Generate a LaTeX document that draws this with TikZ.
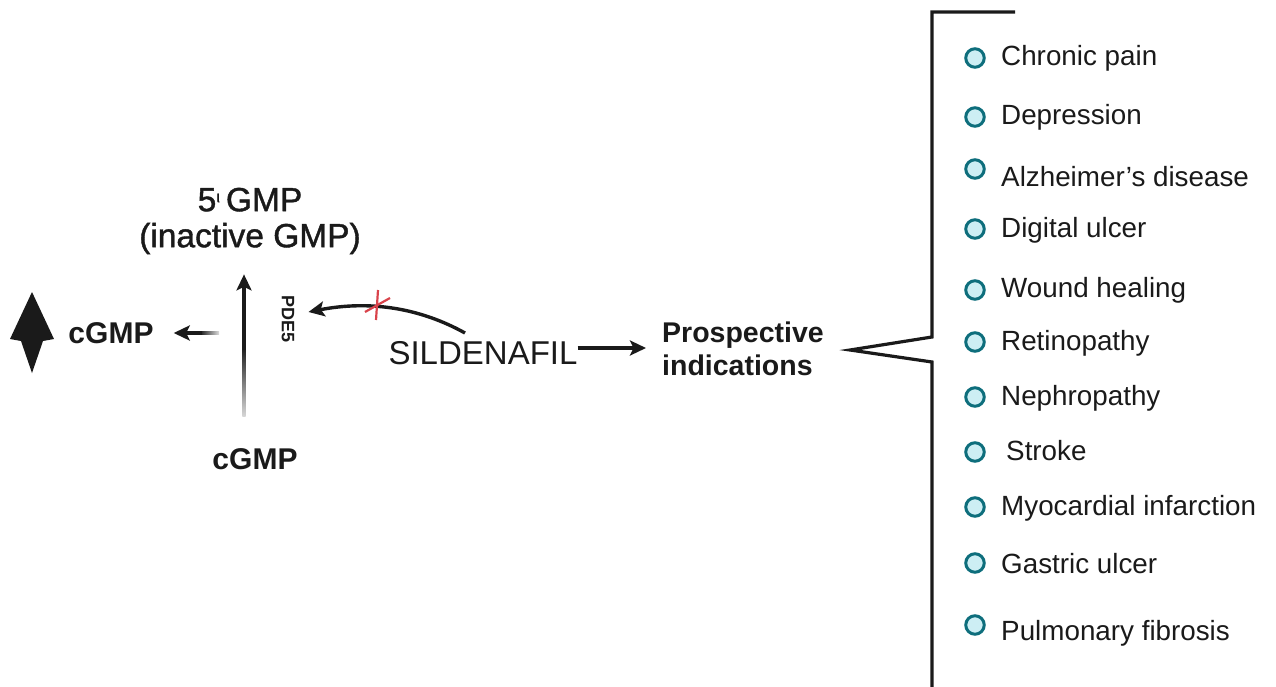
\documentclass[tikz,border=0pt]{standalone}
\usepackage{fontspec}
\setmainfont{Liberation Sans}
\newfontfamily\medfont{Liberation Sans}[FakeBold=1.2]
\usetikzlibrary{arrows.meta,calc}
\definecolor{ink}{HTML}{1A1A1A}
\definecolor{bulletline}{HTML}{0E6E7C}
\definecolor{bulletfill}{HTML}{CDEEF4}
\definecolor{crossred}{HTML}{D9434B}
\tikzset{
  arr/.style={draw=ink, line width=3.4pt, -{Stealth[length=16pt,width=15pt,inset=3.5pt]}},
  boldlbl/.style={font=\fontsize{30}{34}\selectfont\bfseries, text=ink, inner sep=0pt},
  gmplbl/.style={font=\fontsize{33.5}{39}\medfont, text=ink, inner sep=0pt, align=center},
  item/.style={font=\fontsize{27.8}{32}\selectfont, text=ink, inner sep=0pt, anchor=base west},
  bullet/.style={circle, draw=bulletline, fill=bulletfill, line width=3pt, minimum size=18.5pt, inner sep=0pt},
}
\begin{document}
\begin{tikzpicture}[x=1pt,y=-1pt]
\useasboundingbox (0,0) rectangle (1276,687);

% left part
\node[gmplbl] (gmp) at (250,221) {5\textsuperscript{\fontsize{16}{16}\selectfont ι}\,GMP\\[-3pt](inactive GMP)};
\node[boldlbl] (cgmpb) at (255,459) {cGMP};
\node[boldlbl] (cgmpl) at (111,333) {cGMP};
\node[font=\fontsize{18}{20}\selectfont\bfseries, text=ink, inner sep=0pt, rotate=-90] (pde) at (288,319) {PDE5};
% vertical PDE5 reaction arrow with faded tail
\coordinate (vstart) at (244,416);
\coordinate (vmid) at (244,350);
\shade[top color=ink, bottom color=ink!18] (242.3,346) rectangle (245.7,416);
\draw[arr] (vmid) -- ($(gmp.south)+(-6,20)$);
% left arrow with faded tail
\coordinate (lstart) at (219,333);
\coordinate (lmid) at (202,333);
\shade[left color=ink, right color=ink!15] (200,331.3) rectangle (219,334.7);
\draw[arr] (lmid) -- ($(cgmpl.east)+(20,0)$);
% big up/down arrow
\fill[ink] (32,292) -- (54,339) -- (43,341) -- (32,373) -- (21,341) -- (10,339) -- cycle;

% sildenafil
\node[font=\fontsize{33}{38}\selectfont, text=ink, inner sep=0pt] (sil) at (483,353) {SILDENAFIL};
\node[font=\fontsize{28.5}{34}\selectfont\bfseries, text=ink, inner sep=0pt, align=left, anchor=west] (prosp) at (662,349) {Prospective\\[-1pt]indications};
\coordinate (cstart) at (465,333);
\draw[arr] (cstart) .. controls (420,308) and (370,300) .. ($(pde.north)+(14,-7)$);
\draw[crossred, line width=2.2pt] (378,290) -- (376,320);
\draw[crossred, line width=2.2pt] (365,312) -- (390,298);
\draw[arr] ($(sil.east)+(0,-5)$) -- ($(prosp.west)+(-16,-1)$);

% bracket
\draw[ink, line width=3.2pt] (1015,12) -- (932,12) -- (932,337) -- (850,350) -- (932,362) -- (932,687);

% items
\foreach \n/\by/\ty/\tx/\t in {
  a/58/56/1001/Chronic pain,
  b/117/115/1001/Depression,
  c/169/176/1001/Alzheimer’s disease,
  d/229/227/1001/Digital ulcer,
  e/290/287/1001/Wound healing,
  f/342/340/1001/Retinopathy,
  g/397/395/1001/Nephropathy,
  h/452/450/1006/Stroke,
  i/507/505/1001/Myocardial infarction,
  j/563/563/1001/Gastric ulcer,
  k/625/630/1001/Pulmonary fibrosis}{
  \node[bullet] (b\n) at (975,\by) {};
  \node[item] (t\n) at (\tx,\ty+10) {\t};
}
\end{tikzpicture}
\end{document}
